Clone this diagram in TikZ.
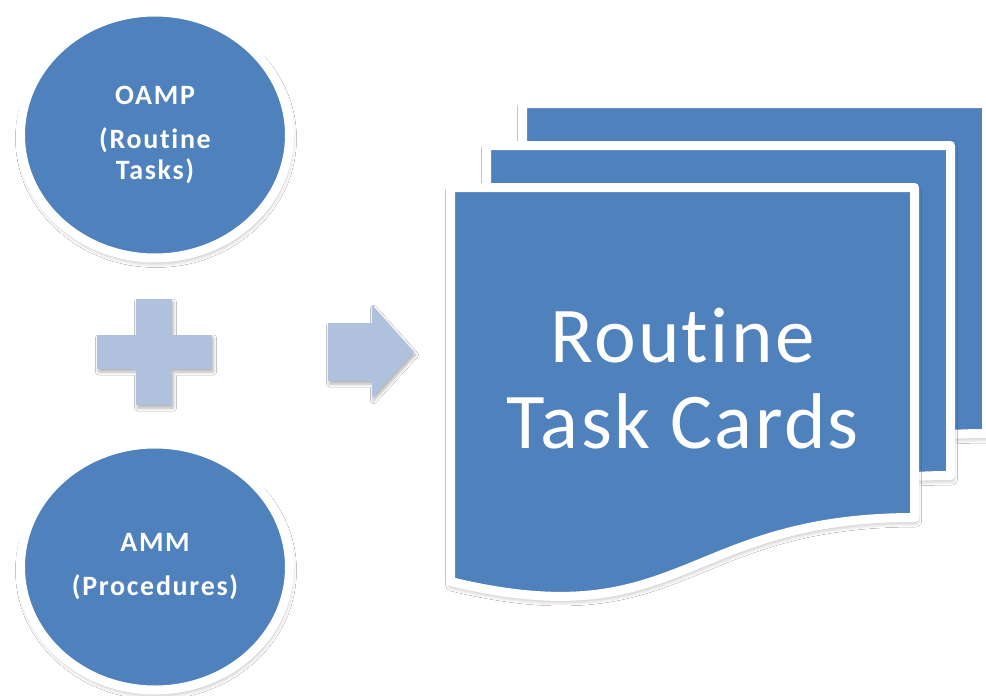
\documentclass[tikz,border=0pt]{standalone}
\usepackage{fontspec}
\setmainfont{Carlito}
\newfontfamily\labelfont[LetterSpace=6,Ligatures=NoCommon]{Carlito}
\newfontfamily\cardfont[LetterSpace=3,Ligatures=NoCommon]{Carlito}
\usetikzlibrary{shapes.geometric,shadows.blur}
\definecolor{cardblue}{HTML}{4F81BD}
\definecolor{signblue}{HTML}{B0C1DE}

% one sheet of the stack; #1,#2 = top-left corner of its blue face
\newcommand\taskcard[2]{%
  \begin{scope}[shift={(#1,#2)}]
    \path[sheet] (-4.5,-4.5) -- (459.5,-4.5) -- (459.5,325.5)
      .. controls (227.5,325.5) and (227.5,445.5) .. (-4.5,389.5) -- cycle;
  \end{scope}}

\begin{document}
\begin{tikzpicture}[x=1pt,y=-1pt,
  softshadow/.style={blur shadow={shadow xshift=1pt, shadow yshift=-3.5pt,
      shadow blur radius=6pt, shadow blur steps=12, shadow opacity=40}},
  source/.style={ellipse, fill=cardblue, draw=white, line width=9pt,
      minimum width=269pt, minimum height=246pt, inner sep=0pt,
      text=white, align=center,
      font=\labelfont\bfseries\fontsize{28}{31}\selectfont, softshadow},
  sheet/.style={fill=cardblue, draw=white, line width=9pt, line join=round, softshadow},
  sign/.style={fill=signblue, blur shadow={shadow xshift=1.5pt, shadow yshift=-3pt,
      shadow blur radius=3pt, shadow blur steps=6, shadow opacity=30}},
  bigtext/.style={text=white, font=\cardfont\fontsize{79}{86}\selectfont, inner sep=0pt}
]
\useasboundingbox (0,0) rectangle (986,696);
\fill[white] (0,0) rectangle (986,696);

% inputs
\node[source] (oamp) at (155,135) {OAMP\\[13pt](Routine\\Tasks)};
\node[source] (amm) at (155,567) {AMM\\[13pt](Procedures)};

% plus sign
\fill[sign] (97,335) -- (136,335) -- (136,299) -- (172,299) -- (172,335)
  -- (212,335) -- (212,369) -- (172,369) -- (172,405) -- (136,405)
  -- (136,369) -- (97,369) -- cycle;

% block arrow
\fill[sign] (328,323) -- (372,323) -- (372,305) -- (414,352) -- (372,398)
  -- (372,381) -- (328,381) -- cycle;

% stack of task cards, back to front
\taskcard{527}{108}
\taskcard{491}{150}
\taskcard{455}{192}

\node[bigtext, anchor=base] (title1) at (682.5,362) {Routine};
\node[bigtext, anchor=base] (title2) at (682.5,448) {Task Cards};
\end{tikzpicture}
\end{document}
